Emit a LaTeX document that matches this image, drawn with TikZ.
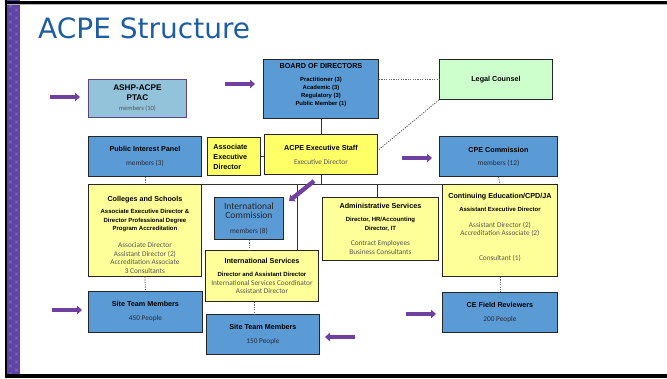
\documentclass[tikz,border=0pt]{standalone}
\usepackage{fontspec}
\setmainfont{Liberation Sans}
\newfontfamily\carlito{Carlito}
\newfontfamily\dejavu{DejaVu Sans}
\usetikzlibrary{arrows.meta,calc}
\definecolor{boxblue}{RGB}{91,155,213}
\definecolor{ybright}{RGB}{255,255,102}
\definecolor{ylight}{RGB}{255,255,153}
\definecolor{lgreen}{RGB}{204,255,204}
\definecolor{ptacblue}{RGB}{146,195,218}
\definecolor{ptacedge}{RGB}{90,70,130}
\definecolor{arrowpurple}{RGB}{112,64,160}
\definecolor{stripe}{RGB}{94,68,166}
\definecolor{titleblue}{RGB}{31,93,163}
\definecolor{graytext}{RGB}{85,85,85}
\definecolor{darktext}{RGB}{40,40,55}
\newcommand{\boxhead}{\bfseries\fontsize{7.2}{8}\selectfont}
\newcommand{\boxsubhead}{\bfseries\fontsize{6}{8}\selectfont}
\newcommand{\boxgray}{\carlito\mdseries\fontsize{7.3}{8}\selectfont\color{graytext}}
\newcommand{\boxdark}{\carlito\mdseries\fontsize{7.3}{8}\selectfont\color{darktext}}
\begin{document}
\begin{tikzpicture}[x=1pt,y=-1pt,
  box/.style={draw=black!85,line width=0.9pt,anchor=north west,inner sep=0pt,align=center},
  bluebox/.style={box,fill=boxblue},
  ybox/.style={box,fill=ylight},
  ybbox/.style={box,fill=ybright},
  txt/.style={inner sep=0pt,align=center,anchor=north},
  dots/.style={draw=black!60,line width=0.9pt,dash pattern=on 1.2pt off 1.2pt},
  solidline/.style={draw=black!80,line width=0.8pt},
  parrow/.style={draw=arrowpurple,line width=4.3pt,-{Triangle[length=5pt,width=8.5pt]}}
]
\useasboundingbox (0,0) rectangle (667,378);
% slide frame
\fill[stripe] (7,0) rectangle (20,378);
\foreach \yy in {6,14,...,374}{
  \draw[white,opacity=0.22,line width=0.6pt] (10.5,\yy) +(-1.5,-1.5) -- +(1.5,1.5) (10.5,\yy) +(-1.5,1.5) -- +(1.5,-1.5);
  \draw[white,opacity=0.22,line width=0.6pt] (16.5,\yy+4) +(-1.5,-1.5) -- +(1.5,1.5) (16.5,\yy+4) +(-1.5,1.5) -- +(1.5,-1.5);
}
\fill[black] (5,0) rectangle (7,378);
\fill[black] (5,1) rectangle (667,3.5);
\fill[black!30] (7,3.5) rectangle (667,4.5);
\fill[black] (5,374) rectangle (667,378);
\node[anchor=base west,inner sep=0pt,font=\dejavu\fontsize{28}{30}\selectfont,text=titleblue] (title) at (38,38) {ACPE Structure};

% boxes
\node[box,fill=ptacblue,draw=ptacedge,minimum width=98pt,minimum height=38pt,font=\bfseries\fontsize{8.2}{10}\selectfont] (ptac) at (88,79)
  {ASHP-ACPE\\PTAC\\{\carlito\mdseries\fontsize{6.5}{10}\selectfont\color{graytext}members (10)}};

\node[bluebox,minimum width=115pt,minimum height=59pt] (board) at (263,59) {};
\node[txt,font=\bfseries\fontsize{5.9}{8}\selectfont] (boardtext) at ([yshift=-4.4pt]board.north)
  {{\fontsize{7.2}{8}\selectfont BOARD OF DIRECTORS}\\[5pt]Practitioner (3)\\Academic (3)\\Regulatory (3)\\Public Member (1)};

\node[box,fill=lgreen,minimum width=113pt,minimum height=40pt,font=\boxhead] (legal) at (439,59) {Legal Counsel};

\node[ybbox,minimum width=113pt,minimum height=40pt,font=\fontsize{7.2}{9}\selectfont] (exec) at (264,134)
  {{\boxhead ACPE Executive Staff}\\[5pt]{\boxgray Executive Director}};

\node[ybbox,minimum width=53pt,minimum height=38pt,text width=41pt,align=left,font=\bfseries\fontsize{7.2}{10}\selectfont] (assoc) at (207,137)
  {Associate\\Executive\\Director};

\node[bluebox,minimum width=113pt,minimum height=40pt,font=\fontsize{7.2}{14}\selectfont] (pip) at (88,136)
  {{\boxhead Public Interest Panel}\\{\boxdark members (3)}};

\node[ybox,minimum width=113pt,minimum height=92pt] (colleges) at (88,184) {};
\node[txt,font=\fontsize{6}{8.5}\selectfont] (collegestext) at ([yshift=-12.4pt]colleges.north)
  {{\boxhead Colleges and Schools}\\[3.5pt]
   {\boxsubhead Associate Executive Director \&}\\{\boxsubhead Director Professional Degree}\\{\boxsubhead Program Accreditation}\\[8.5pt]
   {\boxgray Associate Director}\\{\boxgray Assistant Director (2)}\\{\boxgray Accreditation Associate}\\{\boxgray 3 Consultants}};

\node[bluebox,minimum width=114pt,minimum height=41pt,font=\fontsize{7.2}{14}\selectfont] (site1) at (88,291)
  {{\boxhead Site Team Members}\\{\boxdark 450 People}};

\node[bluebox,minimum width=69pt,minimum height=42pt,font=\carlito\fontsize{9.5}{9}\selectfont\color{black!85}] (intcomm) at (214,197)
  {International\\Commission\\[6pt]{\boxdark members (8)}};

\node[ybox,minimum width=113pt,minimum height=51pt,font=\fontsize{6}{8.5}\selectfont] (intserv) at (205,250)
  {{\boxhead International Services}\\[4.5pt]{\boxsubhead Director and Assistant Director}\\{\boxgray International Services Coordinator}\\{\boxgray Assistant Director}};

\node[bluebox,minimum width=113pt,minimum height=40pt,font=\fontsize{7.2}{14}\selectfont] (site2) at (206,314)
  {{\boxhead Site Team Members}\\{\boxdark 150 People}};

\node[ybox,minimum width=116pt,minimum height=63pt,font=\fontsize{6}{9}\selectfont] (admin) at (322,197)
  {{\boxhead Administrative Services}\\[4pt]{\boxsubhead Director, HR/Accounting}\\{\boxsubhead Director, IT}\\[6pt]{\boxgray Contract Employees}\\{\boxgray Business Consultants}};

\node[bluebox,minimum width=118pt,minimum height=40pt,font=\fontsize{7.2}{13}\selectfont] (cpe) at (439,136)
  {{\boxhead CPE Commission}\\{\boxdark members (12)}};

\node[ybox,minimum width=115pt,minimum height=92pt] (ce) at (442,184) {};
\node[txt,font=\fontsize{6}{8}\selectfont] (cetext) at ([yshift=-9.4pt]ce.north)
  {{\boxhead Continuing Education/CPD/JA}\\[5pt]{\boxsubhead Assistant Executive Director}\\[8pt]
   {\boxgray Assistant Director (2)}\\{\boxgray Accreditation Associate (2)}\\[17pt]{\boxgray Consultant (1)}};

\node[bluebox,minimum width=115pt,minimum height=40pt,font=\fontsize{7.2}{14}\selectfont] (cefr) at (442,292)
  {{\boxhead CE Field Reviewers}\\{\boxdark 200 People}};

% connectors
\draw[dots] (legal.west -| board.east) -- (legal.west);
\draw[dots] (legal.south west) -- ($(exec.north east)!0.4!(exec.south east)$);
\draw[solidline] (board.south) -- (exec.north);
\draw[solidline] (assoc.east) -- (assoc.east -| exec.west);
\draw[solidline] (exec.south) -- (exec.south |- colleges.north);
\draw[solidline] (colleges.north east) -- (ce.north west);
\coordinate (dropA) at (297,184);
\coordinate (dropB) at (377,184);
\draw[solidline] (dropA) -- (dropA |- intserv.north);
\draw[solidline] (dropB) -- (dropB |- admin.north);
\draw[dots] (pip.south) -- (colleges.north);
\draw[dots] (colleges.south) -- (site1.north);
\draw[dots] (intcomm.south) -- (intcomm.south |- intserv.north);
\coordinate (isdrop) at ([xshift=-7.5pt]intserv.south);
\draw[dots] (isdrop) -- (isdrop |- site2.north);
\draw[dots] (cpe.south) -- (ce.north);
\draw[dots] (ce.south) -- (cefr.north);

% purple arrows
\coordinate (a1s) at (50,97);   \coordinate (a1e) at (80,97);
\coordinate (a2s) at (225,84);  \coordinate (a2e) at (255,84);
\coordinate (a3s) at (402,158); \coordinate (a3e) at (432,158);
\coordinate (a4s) at (314,181); \coordinate (a4e) at (289,201);
\coordinate (a5s) at (52,310);  \coordinate (a5e) at (82,310);
\coordinate (a6s) at (355,337); \coordinate (a6e) at (325,337);
\coordinate (a7s) at (406,314); \coordinate (a7e) at (436,314);
\foreach \i in {1,...,7}{\draw[parrow] (a\i s) -- (a\i e);}
\end{tikzpicture}
\end{document}
